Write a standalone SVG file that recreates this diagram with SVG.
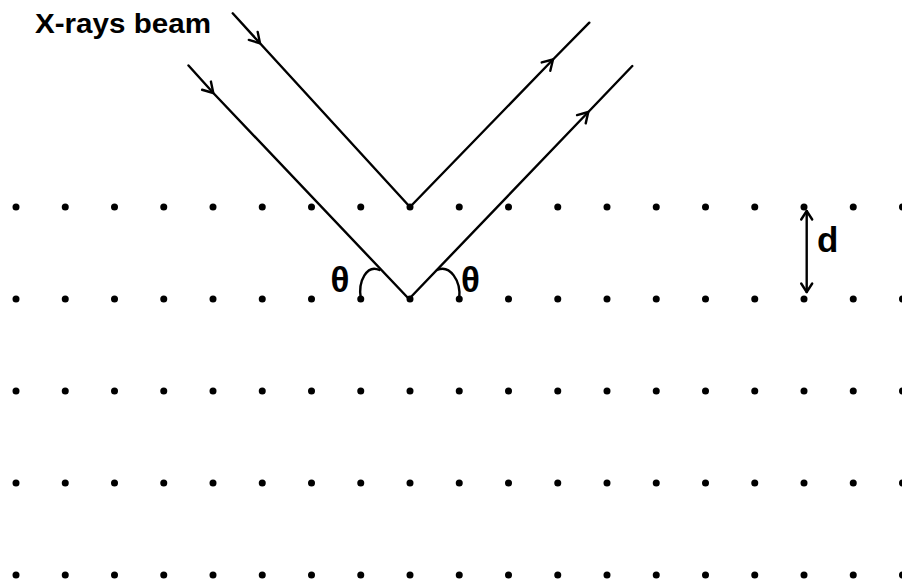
<svg xmlns="http://www.w3.org/2000/svg" width="902" height="583" viewBox="0 0 902 583">
<defs>
<style>
.ray{fill:none;stroke:#000;stroke-width:2.4;stroke-linecap:round;stroke-linejoin:round}
.arc{fill:none;stroke:#000;stroke-width:2.4;stroke-linecap:round}
.lbl{font-family:"Liberation Sans",Arial,sans-serif;font-weight:bold;fill:#000}
.dot{fill:#000}
</style>
<marker id="chev" markerUnits="userSpaceOnUse" viewBox="-14 -9 16 18" markerWidth="16" markerHeight="18" refX="0" refY="0" orient="auto">
<path d="M -10 -6 L 0 0 L -10 6" fill="none" stroke="#000" stroke-width="2.4" stroke-linecap="round" stroke-linejoin="round"/>
</marker>
<marker id="chevEnd" markerUnits="userSpaceOnUse" viewBox="-14 -9 16 18" markerWidth="16" markerHeight="18" refX="0" refY="0" orient="auto-start-reverse">
<path d="M -8.5 -5.5 L 0 0 L -8.5 5.5" fill="none" stroke="#000" stroke-width="2.4" stroke-linecap="round" stroke-linejoin="round"/>
</marker>
</defs>
<rect width="902" height="583" fill="#fff"/>
<g id="lattice">
<g id="row1"><circle class="dot" cx="16" cy="207" r="3.5"/><circle class="dot" cx="65.25" cy="207" r="3.5"/><circle class="dot" cx="114.5" cy="207" r="3.5"/><circle class="dot" cx="163.75" cy="207" r="3.5"/><circle class="dot" cx="213" cy="207" r="3.5"/><circle class="dot" cx="262.25" cy="207" r="3.5"/><circle class="dot" cx="311.5" cy="207" r="3.5"/><circle class="dot" cx="360.75" cy="207" r="3.5"/><circle class="dot" cx="410" cy="207" r="3.5"/><circle class="dot" cx="459.25" cy="207" r="3.5"/><circle class="dot" cx="508.5" cy="207" r="3.5"/><circle class="dot" cx="557.75" cy="207" r="3.5"/><circle class="dot" cx="607" cy="207" r="3.5"/><circle class="dot" cx="656.25" cy="207" r="3.5"/><circle class="dot" cx="705.5" cy="207" r="3.5"/><circle class="dot" cx="754.75" cy="207" r="3.5"/><circle class="dot" cx="804" cy="207" r="3.5"/><circle class="dot" cx="853.25" cy="207" r="3.5"/><circle class="dot" cx="902.5" cy="207" r="3.5"/></g>
<g id="row2"><circle class="dot" cx="16" cy="299" r="3.5"/><circle class="dot" cx="65.25" cy="299" r="3.5"/><circle class="dot" cx="114.5" cy="299" r="3.5"/><circle class="dot" cx="163.75" cy="299" r="3.5"/><circle class="dot" cx="213" cy="299" r="3.5"/><circle class="dot" cx="262.25" cy="299" r="3.5"/><circle class="dot" cx="311.5" cy="299" r="3.5"/><circle class="dot" cx="360.75" cy="299" r="3.5"/><circle class="dot" cx="410" cy="299" r="3.5"/><circle class="dot" cx="459.25" cy="299" r="3.5"/><circle class="dot" cx="508.5" cy="299" r="3.5"/><circle class="dot" cx="557.75" cy="299" r="3.5"/><circle class="dot" cx="607" cy="299" r="3.5"/><circle class="dot" cx="656.25" cy="299" r="3.5"/><circle class="dot" cx="705.5" cy="299" r="3.5"/><circle class="dot" cx="754.75" cy="299" r="3.5"/><circle class="dot" cx="804" cy="299" r="3.5"/><circle class="dot" cx="853.25" cy="299" r="3.5"/><circle class="dot" cx="902.5" cy="299" r="3.5"/></g>
<g id="row3"><circle class="dot" cx="16" cy="391" r="3.5"/><circle class="dot" cx="65.25" cy="391" r="3.5"/><circle class="dot" cx="114.5" cy="391" r="3.5"/><circle class="dot" cx="163.75" cy="391" r="3.5"/><circle class="dot" cx="213" cy="391" r="3.5"/><circle class="dot" cx="262.25" cy="391" r="3.5"/><circle class="dot" cx="311.5" cy="391" r="3.5"/><circle class="dot" cx="360.75" cy="391" r="3.5"/><circle class="dot" cx="410" cy="391" r="3.5"/><circle class="dot" cx="459.25" cy="391" r="3.5"/><circle class="dot" cx="508.5" cy="391" r="3.5"/><circle class="dot" cx="557.75" cy="391" r="3.5"/><circle class="dot" cx="607" cy="391" r="3.5"/><circle class="dot" cx="656.25" cy="391" r="3.5"/><circle class="dot" cx="705.5" cy="391" r="3.5"/><circle class="dot" cx="754.75" cy="391" r="3.5"/><circle class="dot" cx="804" cy="391" r="3.5"/><circle class="dot" cx="853.25" cy="391" r="3.5"/><circle class="dot" cx="902.5" cy="391" r="3.5"/></g>
<g id="row4"><circle class="dot" cx="16" cy="483" r="3.5"/><circle class="dot" cx="65.25" cy="483" r="3.5"/><circle class="dot" cx="114.5" cy="483" r="3.5"/><circle class="dot" cx="163.75" cy="483" r="3.5"/><circle class="dot" cx="213" cy="483" r="3.5"/><circle class="dot" cx="262.25" cy="483" r="3.5"/><circle class="dot" cx="311.5" cy="483" r="3.5"/><circle class="dot" cx="360.75" cy="483" r="3.5"/><circle class="dot" cx="410" cy="483" r="3.5"/><circle class="dot" cx="459.25" cy="483" r="3.5"/><circle class="dot" cx="508.5" cy="483" r="3.5"/><circle class="dot" cx="557.75" cy="483" r="3.5"/><circle class="dot" cx="607" cy="483" r="3.5"/><circle class="dot" cx="656.25" cy="483" r="3.5"/><circle class="dot" cx="705.5" cy="483" r="3.5"/><circle class="dot" cx="754.75" cy="483" r="3.5"/><circle class="dot" cx="804" cy="483" r="3.5"/><circle class="dot" cx="853.25" cy="483" r="3.5"/><circle class="dot" cx="902.5" cy="483" r="3.5"/></g>
<g id="row5"><circle class="dot" cx="16" cy="575" r="3.5"/><circle class="dot" cx="65.25" cy="575" r="3.5"/><circle class="dot" cx="114.5" cy="575" r="3.5"/><circle class="dot" cx="163.75" cy="575" r="3.5"/><circle class="dot" cx="213" cy="575" r="3.5"/><circle class="dot" cx="262.25" cy="575" r="3.5"/><circle class="dot" cx="311.5" cy="575" r="3.5"/><circle class="dot" cx="360.75" cy="575" r="3.5"/><circle class="dot" cx="410" cy="575" r="3.5"/><circle class="dot" cx="459.25" cy="575" r="3.5"/><circle class="dot" cx="508.5" cy="575" r="3.5"/><circle class="dot" cx="557.75" cy="575" r="3.5"/><circle class="dot" cx="607" cy="575" r="3.5"/><circle class="dot" cx="656.25" cy="575" r="3.5"/><circle class="dot" cx="705.5" cy="575" r="3.5"/><circle class="dot" cx="754.75" cy="575" r="3.5"/><circle class="dot" cx="804" cy="575" r="3.5"/><circle class="dot" cx="853.25" cy="575" r="3.5"/><circle class="dot" cx="902.5" cy="575" r="3.5"/></g>
</g>
<g id="connectors">
<path id="ray-in-upper" class="ray" d="M 232.7 13.3 L 260 43.3 L 410 207" marker-mid="url(#chev)"/>
<path id="ray-in-lower" class="ray" d="M 188.5 65.5 L 213.3 93 L 409 299" marker-mid="url(#chev)"/>
<path id="ray-out-upper" class="ray" d="M 410 207 L 553 59.5 L 589.3 22.7" marker-mid="url(#chev)"/>
<path id="ray-out-lower" class="ray" d="M 409 299 L 588.3 112 L 632.3 66" marker-mid="url(#chev)"/>
<path id="angle-left" class="arc" d="M 379.5 270 C 367 264, 358 281, 360.75 298"/>
<path id="angle-right" class="arc" d="M 437 270 C 450 264, 461 281, 459.25 298"/>
<line id="spacing-d" class="ray" x1="806.7" y1="211" x2="806.7" y2="292" marker-start="url(#chevEnd)" marker-end="url(#chevEnd)"/>
</g>
<g id="labels">
<text id="label-xray" class="lbl" x="35" y="33.3" font-size="28" textLength="176" lengthAdjust="spacingAndGlyphs">X-rays beam</text>
<text id="label-theta-left" class="lbl" x="330.5" y="291.5" font-size="35">θ</text>
<text id="label-theta-right" class="lbl" x="461" y="291.5" font-size="35">θ</text>
<text id="label-d" class="lbl" x="817" y="252" font-size="35">d</text>
</g>
</svg>
